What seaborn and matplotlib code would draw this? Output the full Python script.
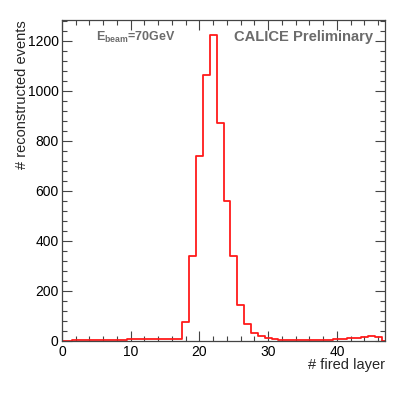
import numpy as np
import pandas as pd
import matplotlib
matplotlib.use("Agg")
import matplotlib.pyplot as plt
from matplotlib.ticker import MultipleLocator
import seaborn as sns

# Data: bin centres (number of fired layers) and event counts
layers = list(range(0, 48))
counts = [0, 0, 1, 2, 3, 3, 3, 3, 4, 4,
          5, 5, 5, 5, 5, 5, 5, 7, 76, 340,
          739, 1064, 1222, 872, 560, 340, 144, 68, 30, 17,
          11, 7, 3, 2, 2, 2, 1, 2, 4, 4,
          6, 7, 9, 11, 15, 20, 14, 0]

x_label = "# fired layer"
y_label = "# reconstructed events"
beam_text = r"E$_{\mathregular{beam}}$=70GeV"
calice_text = "CALICE Preliminary"

sns.set_theme(style="ticks")
plt.rcParams["font.family"] = ["Liberation Sans", "DejaVu Sans"]
plt.rcParams["mathtext.fontset"] = "custom"
plt.rcParams["mathtext.rm"] = "Liberation Sans:bold"
plt.rcParams["mathtext.it"] = "Liberation Sans:bold"
plt.rcParams["mathtext.bf"] = "Liberation Sans:bold"

W, H = 407, 396
fig = plt.figure(figsize=(W / 100, H / 100), dpi=100)
fig.patch.set_facecolor("white")
ax_l, ax_r, ax_t, ax_b = 62, 385, 20, 340.7
ax = fig.add_axes([ax_l / W, 1 - ax_b / H, (ax_r - ax_l) / W, (ax_b - ax_t) / H])
ax.set_facecolor("white")

df = pd.DataFrame({"layer": layers, "count": counts})
sns.histplot(data=df, x="layer", weights="count", binwidth=1.0, binrange=(-0.5, 47.5),
             element="step", fill=False, color="#ff1a1a", linewidth=1.3, ax=ax)

ax.set_xlim(0, 47)
ax.set_ylim(0, 1283)
ax.xaxis.set_major_locator(MultipleLocator(10))
ax.xaxis.set_minor_locator(MultipleLocator(2))
ax.yaxis.set_major_locator(MultipleLocator(200))
ax.yaxis.set_minor_locator(MultipleLocator(40))
ax.tick_params(which="both", direction="in", top=True, right=True,
               color="#444444", labelcolor="black", labelsize=10, width=0.8)
ax.tick_params(which="major", length=7)
ax.tick_params(which="minor", length=3.6)
ax.tick_params(axis="y", pad=2.5)
ax.tick_params(axis="x", pad=3)
for s in ax.spines.values():
    s.set_color("#444444")
    s.set_linewidth(0.9)

ax.set_xlabel("")
ax.set_ylabel("")
fig.text(385 / W, 1 - 365 / H, x_label, ha="right", va="center", fontsize=10.5)
fig.text(22 / W, 1 - 20 / H, y_label, ha="center", va="top", rotation=90, fontsize=10.5)

fig.text(95.7 / W, 1 - 40.7 / H, beam_text, ha="left", va="baseline",
         fontsize=9, fontweight="bold", color="#6b6b6b")
fig.text(373.5 / W, 1 - 40.7 / H, calice_text, ha="right", va="baseline",
         fontsize=10.6, fontweight="bold", color="#6b6b6b")

fig.savefig("out.png", dpi=100, facecolor="white")
